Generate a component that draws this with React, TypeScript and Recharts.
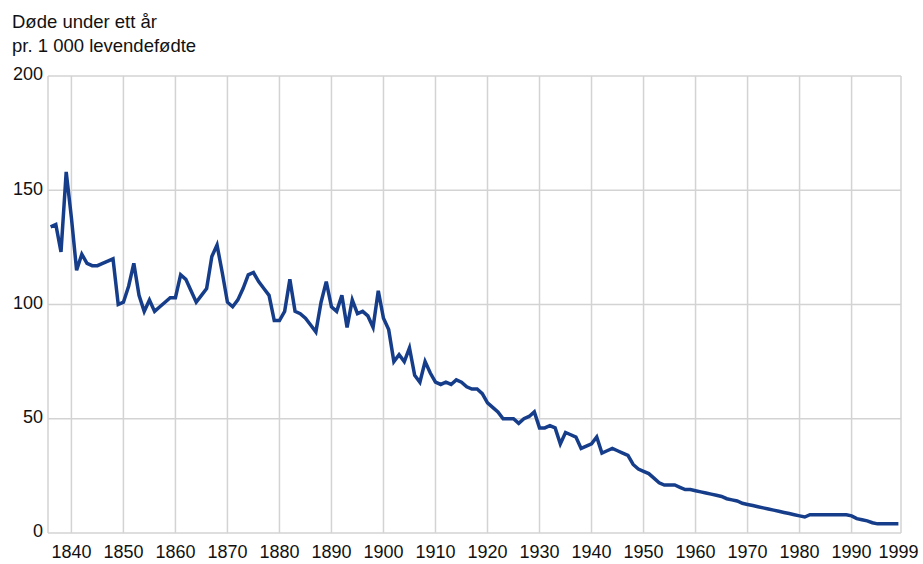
import React from 'react';
import { LineChart, Line, XAxis, YAxis, CartesianGrid } from 'recharts';

// Døde under ett år pr. 1 000 levendefødte, 1836–1999
const firstYear = 1836;
const rates1836to1849 = [134, 135, 123, 158, 138, 115, 122, 118, 117, 117, 118, 119, 120, 100];
const rates1850s = [101, 108, 118, 104, 97, 102, 97, 99, 101, 103];
const rates1860s = [103, 113, 111, 106, 101, 104, 107, 121, 126, 114];
const rates1870s = [101, 99, 102, 107, 113, 114, 110, 107, 104, 93];
const rates1880s = [93, 97, 111, 97, 96, 94, 91, 88, 101, 110];
const rates1890s = [99, 97, 104, 90, 102, 96, 97, 95, 90, 106];
const rates1900s = [94, 89, 75, 78, 75, 81, 69, 66, 75, 70];
const rates1910s = [66, 65, 66, 65, 67, 66, 64, 63, 63, 61];
const rates1920s = [57, 55, 53, 50, 50, 50, 48, 50, 51, 53];
const rates1930s = [46, 46, 47, 46, 39, 44, 43, 42, 37, 38];
const rates1940s = [39, 42, 35, 36, 37, 36, 35, 34, 30, 28];
const rates1950s = [27, 26, 24, 22, 21, 21, 21, 20, 19, 19];
const rates1960s = [18.5, 18, 17.5, 17, 16.5, 16, 15, 14.5, 14, 13];
const rates1970s = [12.5, 12, 11.5, 11, 10.5, 10, 9.5, 9, 8.5, 8];
const rates1980s = [7.5, 7, 8, 8, 8, 8, 8, 8, 8, 8];
const rates1990s = [7.5, 6.3, 5.8, 5.3, 4.5, 4, 4, 4, 4, 4];

const xTicks = [1840, 1850, 1860, 1870, 1880, 1890, 1900, 1910, 1920, 1930, 1940, 1950, 1960, 1970, 1980, 1990, 1999];
const xGridYears = [1835.5, 1840, 1850, 1860, 1870, 1880, 1890, 1900, 1910, 1920, 1930, 1940, 1950, 1960, 1970, 1980, 1990, 1999.5];
const yTicks = [0, 50, 100, 150, 200];

const allRates = [
  ...rates1836to1849, ...rates1850s, ...rates1860s, ...rates1870s, ...rates1880s,
  ...rates1890s, ...rates1900s, ...rates1910s, ...rates1920s, ...rates1930s,
  ...rates1940s, ...rates1950s, ...rates1960s, ...rates1970s, ...rates1980s, ...rates1990s,
];
const data = allRates.map((rate, i) => ({ year: firstYear + i, rate }));

const FONT = '"Liberation Sans", Arial, sans-serif';

export default function App() {
  return (
    <div style={{ position: 'absolute', left: 0, top: 0, width: 923, height: 564, background: '#fff', fontFamily: FONT, color: '#111' }}>
      <div style={{ position: 'absolute', left: 12, top: 13, fontSize: 18.5, lineHeight: '18px' }}>Døde under ett år</div>
      <div style={{ position: 'absolute', left: 12, top: 37, fontSize: 18.5, lineHeight: '18px' }}>pr. 1 000 levendefødte</div>
      <LineChart width={923} height={564} data={data} margin={{ top: 76, right: 22, bottom: 0, left: 0 }}>
        <CartesianGrid stroke="#d3d3d3" strokeWidth={1.5} verticalValues={xGridYears} horizontalValues={yTicks} />
        <XAxis
          dataKey="year"
          type="number"
          domain={[1835.5, 1999.5]}
          ticks={xTicks}
          interval={0}
          height={31}
          axisLine={false}
          tickLine={false}
          tickSize={8}
          tickMargin={4}
          tick={{ fontSize: 18, fill: '#111', fontFamily: FONT }}
        />
        <YAxis
          domain={[0, 200]}
          ticks={yTicks}
          width={48}
          axisLine={false}
          tickLine={false}
          tickSize={5}
          tickMargin={0}
          tick={{ fontSize: 18, fill: '#111', fontFamily: FONT, dy: -2 }}
        />
        <Line type="linear" dataKey="rate" stroke="#163d8a" strokeWidth={3.5} strokeLinejoin="miter" dot={false} isAnimationActive={false} />
      </LineChart>
    </div>
  );
}
